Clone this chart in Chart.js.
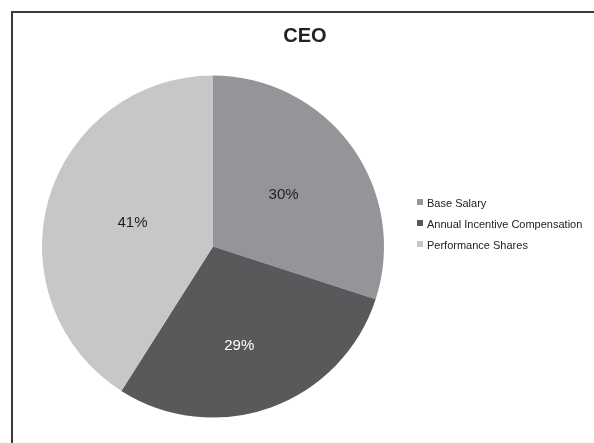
<!DOCTYPE html>
<html>
<head>
<meta charset="utf-8">
<script src="https://cdn.jsdelivr.net/npm/chart.js@4"></script>
<style>
  body { margin: 0; width: 594px; height: 443px; overflow: hidden; background: #fff; position: relative;
         font-family: Arial, "Liberation Sans", sans-serif; }
  #frame { position: absolute; left: 11px; top: 11px; width: 640px; height: 480px;
           border: 2px solid #3a3a3a; box-sizing: border-box; }
  #wrap { position: absolute; left: 16px; top: 0; width: 578px; height: 443px; }
  #legend { position: absolute; left: 417px; top: 192.5px; font-size: 11px; color: #222; }
  #legend .row { height: 21px; line-height: 21px; white-space: nowrap; }
  #legend .box { display: inline-block; width: 6px; height: 6px; margin-right: 4px; vertical-align: 2px; }
</style>
</head>
<body>
<div id="frame"></div>
<div id="wrap"><canvas id="ceoChart" width="578" height="443"></canvas></div>
<div id="legend"></div>
<script>
// Compensation mix for the CEO (percent of total)
const chartTitle = 'CEO';
const categories = ['Base Salary', 'Annual Incentive Compensation', 'Performance Shares'];
const shares = [30, 29, 41];
const sliceColors = ['#939598', '#58595b', '#c6c7c9'];
const labelColors = ['#231f20', '#ffffff', '#231f20'];
// where each % label sits: fraction of radius, and a small turn (degrees) off the slice middle
const labelRadius = [0.51, 0.6, 0.49];
const labelTurn = [0, 5, 0];

// title + percent labels
const pctLabels = {
    id: 'pctLabels',
    afterDatasetsDraw(chart) {
        const ctx = chart.ctx;
        const meta = chart.getDatasetMeta(0);
        ctx.save();
        ctx.textAlign = 'center';
        ctx.textBaseline = 'middle';
        ctx.fillStyle = '#222';
        ctx.font = 'bold 20px Arial, "Liberation Sans", sans-serif';
        ctx.fillText(chartTitle, 305 - 16, 36);

        ctx.font = '15px Arial, "Liberation Sans", sans-serif';
        meta.data.forEach((arc, i) => {
            const p = arc.getProps(['x', 'y', 'startAngle', 'endAngle', 'outerRadius'], true);
            const mid = (p.startAngle + p.endAngle) / 2 + labelTurn[i] * Math.PI / 180;
            const r = p.outerRadius * labelRadius[i];
            ctx.fillStyle = labelColors[i];
            ctx.fillText(shares[i] + '%', p.x + Math.cos(mid) * r, p.y + Math.sin(mid) * r);
        });
        ctx.restore();
    }
};

const ctxCeo = document.getElementById('ceoChart').getContext('2d');
const ceoChart = new Chart(ctxCeo, {
    type: 'pie',
    data: {
        labels: categories,
        datasets: [{
            data: shares,
            backgroundColor: sliceColors,
            borderWidth: 0
        }]
    },
    options: {
        responsive: false,
        animation: false,
        layout: { padding: { left: 26, right: 210, top: 75.5, bottom: 25.5 } },
        plugins: {
            legend: { display: false },
            tooltip: { enabled: false },
            title: { display: false }
        }
    },
    plugins: [pctLabels]
});

// legend built from the chart's own labels
const legendEl = document.getElementById('legend');
ceoChart.data.labels.forEach((label, i) => {
    const row = document.createElement('div');
    row.className = 'row';
    row.innerHTML = '<span class="box" style="background:' + sliceColors[i] + '"></span>' + label;
    legendEl.appendChild(row);
});
</script>
</body>
</html>
